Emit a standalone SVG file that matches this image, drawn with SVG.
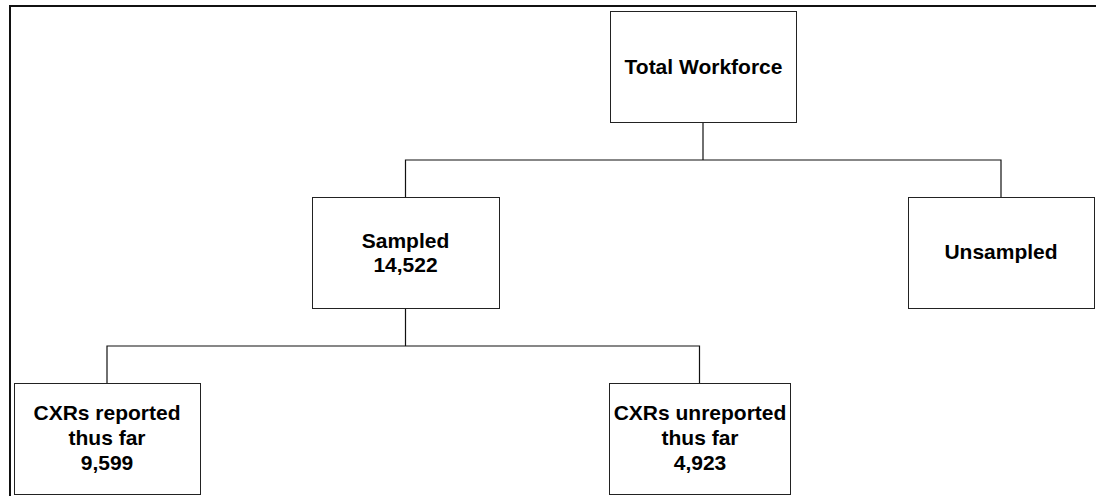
<svg xmlns="http://www.w3.org/2000/svg" width="1096" height="496" viewBox="0 0 1096 496">
<style>
.box{fill:#fff;stroke:#222;stroke-width:1}
.t{font-family:"Liberation Sans",Arial,sans-serif;font-weight:bold;font-size:21px;fill:#000;text-anchor:middle}
.c{fill:none;stroke:#111;stroke-width:1.2}
</style>
<rect x="0" y="0" width="1096" height="496" fill="#fff"/>
<path d="M10,496 V6 H1096" fill="none" stroke="#111" stroke-width="2"/>
<g id="connectors">
<path class="c" d="M703,122 V160 M405.5,197 V160 H1001 V197"/>
<path class="c" d="M405.5,308 V346 M107,383 V346 H699.5 V383"/>
</g>
<g id="total">
<rect class="box" x="610.5" y="11.5" width="186" height="111"/>
<text class="t" x="703.5" y="74">Total Workforce</text>
</g>
<g id="sampled">
<rect class="box" x="312.5" y="197.5" width="187" height="111"/>
<text class="t" x="405.5" y="248">Sampled</text>
<text class="t" x="405.5" y="272">14,522</text>
</g>
<g id="unsampled">
<rect class="box" x="908.5" y="197.5" width="186" height="111"/>
<text class="t" x="1001" y="259">Unsampled</text>
</g>
<g id="reported">
<rect class="box" x="14.5" y="383.5" width="186" height="111"/>
<text class="t" x="107" y="420">CXRs reported</text>
<text class="t" x="107" y="445">thus far</text>
<text class="t" x="107" y="470">9,599</text>
</g>
<g id="unreported">
<rect class="box" x="609.5" y="383.5" width="181" height="111"/>
<text class="t" x="700" y="420">CXRs unreported</text>
<text class="t" x="700" y="445">thus far</text>
<text class="t" x="700" y="470">4,923</text>
</g>
</svg>
